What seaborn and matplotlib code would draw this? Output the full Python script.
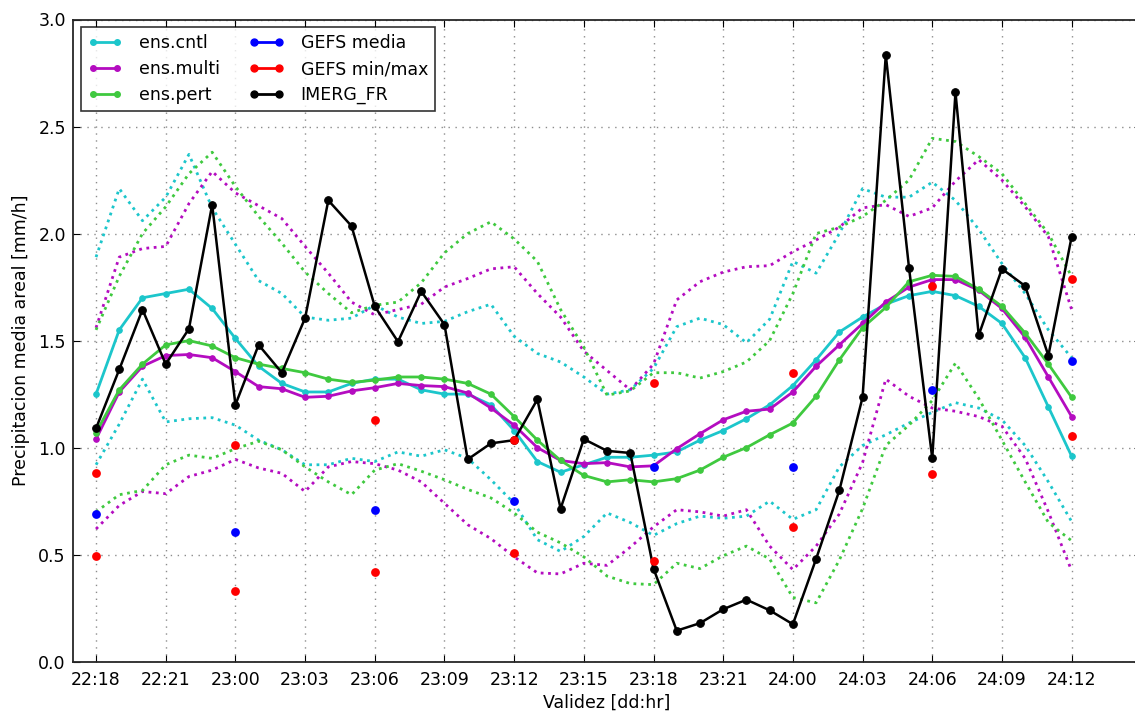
import numpy as np
import pandas as pd
import matplotlib
matplotlib.use("Agg")
import matplotlib.pyplot as plt
from matplotlib.lines import Line2D
import seaborn as sns

# hours since 22:18 (hourly steps)
valid_hours = list(range(43))
tick_hours = list(range(0, 43, 3))
tick_labels = ["22:18", "22:21", "23:00", "23:03", "23:06", "23:09", "23:12", "23:15",
               "23:18", "23:21", "24:00", "24:03", "24:06", "24:09", "24:12"]

ens_cntl = [1.25, 1.55, 1.70, 1.72, 1.74, 1.65, 1.51, 1.38, 1.30, 1.26, 1.26, 1.30, 1.32, 1.32,
            1.27, 1.25, 1.25, 1.20, 1.08, 0.935, 0.885, 0.92, 0.955, 0.955, 0.965, 0.98, 1.035,
            1.08, 1.135, 1.20, 1.29, 1.41, 1.54, 1.61, 1.67, 1.71, 1.73, 1.71, 1.66, 1.58, 1.42,
            1.19, 0.96]
ens_multi = [1.04, 1.26, 1.38, 1.43, 1.435, 1.42, 1.355, 1.285, 1.275, 1.235, 1.24, 1.265, 1.28,
             1.30, 1.29, 1.285, 1.255, 1.185, 1.105, 1.0, 0.94, 0.925, 0.93, 0.91, 0.915, 0.995,
             1.065, 1.13, 1.17, 1.18, 1.26, 1.38, 1.48, 1.58, 1.68, 1.75, 1.785, 1.785, 1.735,
             1.65, 1.515, 1.33, 1.145]
ens_pert = [1.07, 1.27, 1.39, 1.48, 1.50, 1.475, 1.42, 1.39, 1.37, 1.35, 1.32, 1.305, 1.315, 1.33,
            1.33, 1.32, 1.30, 1.25, 1.145, 1.035, 0.94, 0.87, 0.84, 0.85, 0.84, 0.855, 0.895,
            0.955, 1.0, 1.06, 1.115, 1.24, 1.41, 1.56, 1.655, 1.775, 1.805, 1.80, 1.74, 1.66,
            1.535, 1.39, 1.235]
imerg_fr = [1.09, 1.365, 1.645, 1.39, 1.555, 2.135, 1.20, 1.48, 1.35, 1.605, 2.155, 2.035, 1.66,
            1.495, 1.73, 1.575, 0.945, 1.02, 1.035, 1.225, 0.715, 1.04, 0.985, 0.975, 0.435,
            0.145, 0.18, 0.245, 0.29, 0.24, 0.175, 0.48, 0.80, 1.235, 2.835, 1.84, 0.95, 2.66,
            1.525, 1.835, 1.755, 1.43, 1.985]

cntl_max = [1.89, 2.21, 2.06, 2.17, 2.37, 2.12, 1.95, 1.78, 1.72, 1.61, 1.595, 1.605, 1.665, 1.61,
            1.58, 1.59, 1.635, 1.67, 1.52, 1.44, 1.40, 1.33, 1.25, 1.27, 1.37, 1.565, 1.605,
            1.575, 1.49, 1.60, 1.87, 1.815, 2.0, 2.21, 2.17, 2.17, 2.24, 2.155, 2.02, 1.86, 1.72,
            1.55, 1.42]
multi_max = [1.56, 1.89, 1.93, 1.94, 2.14, 2.29, 2.19, 2.13, 2.07, 1.94, 1.815, 1.68, 1.62, 1.645,
             1.67, 1.75, 1.79, 1.835, 1.845, 1.72, 1.61, 1.45, 1.36, 1.27, 1.39, 1.69, 1.775,
             1.82, 1.845, 1.85, 1.915, 1.97, 2.03, 2.12, 2.135, 2.08, 2.12, 2.245, 2.345, 2.25,
             2.125, 1.985, 1.645]
pert_max = [1.55, 1.80, 2.00, 2.125, 2.28, 2.38, 2.22, 2.08, 1.955, 1.82, 1.72, 1.63, 1.665, 1.68,
            1.77, 1.91, 2.0, 2.055, 1.975, 1.87, 1.645, 1.47, 1.245, 1.265, 1.35, 1.35, 1.325,
            1.355, 1.40, 1.50, 1.72, 2.0, 2.03, 2.08, 2.155, 2.25, 2.445, 2.43, 2.36, 2.28, 2.14,
            2.0, 1.80]
cntl_min = [0.92, 1.11, 1.32, 1.12, 1.135, 1.14, 1.105, 1.035, 0.99, 0.92, 0.92, 0.95, 0.935, 0.98,
            0.96, 0.99, 0.95, 0.85, 0.74, 0.57, 0.515, 0.585, 0.695, 0.65, 0.59, 0.645, 0.68,
            0.67, 0.68, 0.75, 0.665, 0.71, 0.91, 1.01, 1.06, 1.115, 1.165, 1.21, 1.185, 1.13,
            1.01, 0.84, 0.655]
multi_min = [0.62, 0.73, 0.795, 0.785, 0.865, 0.895, 0.945, 0.905, 0.88, 0.795, 0.91, 0.935, 0.925,
             0.895, 0.84, 0.74, 0.64, 0.575, 0.49, 0.415, 0.41, 0.46, 0.45, 0.535, 0.63, 0.71,
             0.70, 0.68, 0.71, 0.54, 0.43, 0.54, 0.69, 0.93, 1.32, 1.24, 1.185, 1.17, 1.145, 1.10,
             0.95, 0.70, 0.425]
pert_min = [0.70, 0.78, 0.80, 0.92, 0.965, 0.95, 0.995, 1.03, 0.99, 0.91, 0.84, 0.78, 0.895, 0.925,
            0.89, 0.85, 0.805, 0.765, 0.695, 0.605, 0.555, 0.49, 0.40, 0.365, 0.36, 0.46, 0.435,
            0.495, 0.54, 0.48, 0.30, 0.275, 0.475, 0.715, 1.01, 1.105, 1.22, 1.395, 1.23, 1.035,
            0.84, 0.65, 0.565]

gefs_hours = [0, 6, 12, 18, 24, 30, 36, 42]
gefs_media = [0.69, 0.605, 0.71, 0.75, 0.91, 0.91, 1.27, 1.405]
gefs_min = [0.495, 0.33, 0.42, 0.51, 0.47, 0.63, 0.875, 1.055]
gefs_max = [0.88, 1.01, 1.13, 1.035, 1.30, 1.35, 1.755, 1.79]

c_cntl = "#1cc6cb"
c_multi = "#b40cc0"
c_pert = "#3fc93f"

plt.rcParams.update({
    "font.family": "DejaVu Sans",
    "font.size": 12.5,
    "xtick.direction": "in",
    "ytick.direction": "in",
    "xtick.top": True,
    "ytick.right": True,
    "xtick.major.size": 5,
    "ytick.major.size": 5,
})

fig = plt.figure(figsize=(11.35, 7.13), dpi=100)
ax = fig.add_axes([72.8 / 1135, (713 - 661.7) / 713, (1141.3 - 72.8) / 1135, (661.7 - 19.5) / 713])

df = pd.DataFrame({"h": valid_hours, "cntl": ens_cntl, "multi": ens_multi, "pert": ens_pert,
                   "imerg": imerg_fr, "cntl_max": cntl_max, "multi_max": multi_max,
                   "pert_max": pert_max, "cntl_min": cntl_min, "multi_min": multi_min,
                   "pert_min": pert_min})

# ensemble spread (dotted)
for col, c in [("cntl", c_cntl), ("multi", c_multi), ("pert", c_pert)]:
    for suf in ["_max", "_min"]:
        sns.lineplot(data=df, x="h", y=col + suf, ax=ax, color=c, linestyle=":", linewidth=2.0)

# ensemble means
for col, c in [("cntl", c_cntl), ("multi", c_multi), ("pert", c_pert)]:
    sns.lineplot(data=df, x="h", y=col, ax=ax, color=c, linewidth=2.0, marker="o",
                 markersize=4, markeredgecolor=c)

sns.lineplot(data=df, x="h", y="imerg", ax=ax, color="black", linewidth=1.8, marker="o",
             markersize=5.5, markeredgecolor="black")

# GEFS points
sns.scatterplot(x=gefs_hours, y=gefs_media, ax=ax, color="blue", s=40, linewidth=0, zorder=5)
sns.scatterplot(x=gefs_hours, y=gefs_min, ax=ax, color="red", s=40, linewidth=0, zorder=5)
sns.scatterplot(x=gefs_hours, y=gefs_max, ax=ax, color="red", s=40, linewidth=0, zorder=5)

ax.set_xlim(-1, 45)
ax.set_ylim(0, 3.0)
ax.set_xticks(tick_hours)
ax.set_xticklabels(tick_labels)
ax.set_yticks(np.arange(0, 3.01, 0.5))
ax.tick_params(axis="x", pad=7)
ax.tick_params(axis="y", pad=5)
ax.grid(True, linestyle=(0, (1, 4)), color="0.55", linewidth=1.0)
for s in ax.spines.values():
    s.set_linewidth(1.3)
    s.set_color("0.15")

ax.set_xlabel("Validez [dd:hr]", fontsize=12.5, labelpad=3)
ax.set_ylabel("Precipitacion media areal [mm/h]", fontsize=12.5, labelpad=6)

handles = [
    Line2D([], [], color=c_cntl, lw=2, marker="o", ms=4),
    Line2D([], [], color=c_multi, lw=2, marker="o", ms=4),
    Line2D([], [], color=c_pert, lw=2, marker="o", ms=4),
    Line2D([], [], color="blue", lw=2, marker="o", ms=5),
    Line2D([], [], color="red", lw=2, marker="o", ms=5),
    Line2D([], [], color="black", lw=2, marker="o", ms=5),
]
labels = ["ens.cntl", "ens.multi", "ens.pert", "GEFS media", "GEFS min/max", "IMERG_FR"]
leg = ax.legend(handles, labels, loc="upper left", ncol=2, numpoints=2, fancybox=False,
                frameon=True, edgecolor="black", fontsize=12.5, handlelength=2.0,
                borderaxespad=0.45, columnspacing=1.7, labelspacing=0.45, handletextpad=0.95)
leg.get_frame().set_linewidth(1.2)

fig.savefig("out.png", dpi=100)
